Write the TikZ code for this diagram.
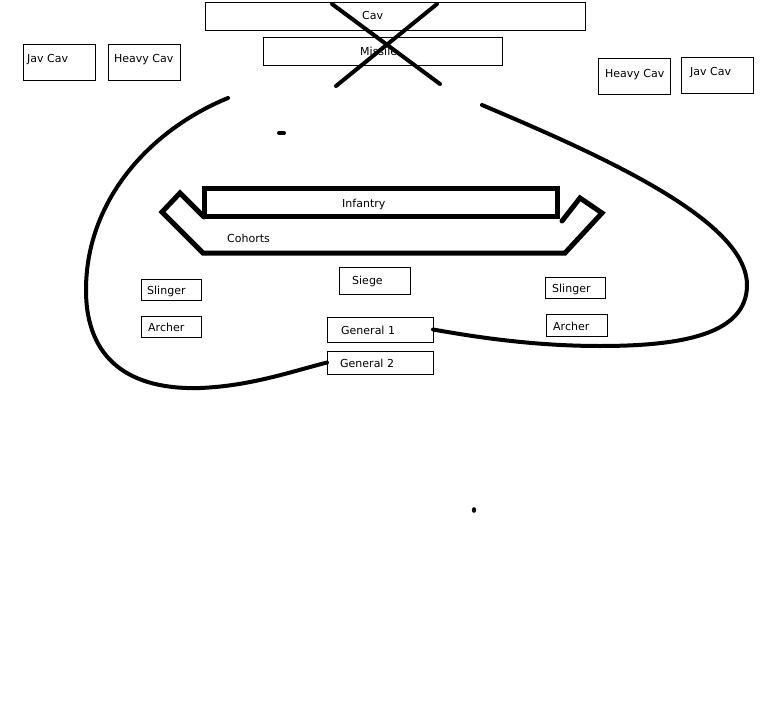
\documentclass[tikz,border=0pt]{standalone}
\usepackage{fontspec}
\setmainfont{DejaVu Sans}
\begin{document}
\begin{tikzpicture}[x=1pt,y=-1pt,
  box/.style={draw=black, line width=0.9pt, fill=white, rectangle, inner sep=0pt, outer sep=0pt, anchor=north west},
  lbl/.style={inner sep=0pt, anchor=west, font=\fontsize{11}{13}\selectfont, text=black},
  thick line/.style={line width=4pt, line cap=round, line join=round},
  heavy line/.style={line width=5pt, line join=miter, line cap=round}]
\useasboundingbox[fill=white] (0,0) rectangle (777,720);

% top boxes
\node[box, minimum width=380pt, minimum height=28pt] (cav) at (205,2) {};
\node[lbl] (cavt) at (362,15) {Cav};
\node[box, minimum width=239pt, minimum height=28pt] (mis) at (263,37) {};
\node[lbl] (mist) at (360,51) {Missile};

\node[box, minimum width=72pt, minimum height=36pt] (jc1) at (23,44) {};
\node[lbl] (jc1t) at (27,60) {Jav Cav};
\node[box, minimum width=72pt, minimum height=36pt] (hc1) at (108,44) {};
\node[lbl] (hc1t) at (114,60) {Heavy Cav};
\node[box, minimum width=72pt, minimum height=36pt] (hc2) at (598,58) {};
\node[lbl] (hc2t) at (605,75) {Heavy Cav};
\node[box, minimum width=72pt, minimum height=36pt] (jc2) at (681,57) {};
\node[lbl] (jc2t) at (690,73) {Jav Cav};

% cross over cav / missile
\coordinate (xa1) at (332,4);
\coordinate (xa2) at (440,84);
\coordinate (xb1) at (437,4);
\coordinate (xb2) at (336,86);
\draw[thick line] (xa1) -- (xa2);
\draw[thick line] (xb1) -- (xb2);

% infantry and cohorts
\coordinate (c1) at (204,217);
\coordinate (c2) at (180,193);
\coordinate (c3) at (162,212);
\coordinate (c4) at (203,253);
\coordinate (c5) at (565,253);
\coordinate (c6) at (602,213);
\coordinate (c7) at (580,198);
\coordinate (c8) at (562,221);
\draw[heavy line] (c1) -- (c2) -- (c3) -- (c4) -- (c5) -- (c6) -- (c7) -- (c8);
\node[draw=black, line width=5pt, rectangle, inner sep=0pt, outer sep=0pt, anchor=north west,
      minimum width=352.5pt, minimum height=28pt] (inf) at (204.5,188.5) {};
\node[lbl] (inft) at (342,204) {Infantry};
\node[lbl] (coht) at (227,238) {Cohorts};

% lower boxes
\node[box, minimum width=71pt, minimum height=27pt] (sg) at (339,267) {};
\node[lbl] (sgt) at (352,281) {Siege};
\node[box, minimum width=60pt, minimum height=21pt] (sl1) at (141,279) {};
\node[lbl] (sl1t) at (147,291) {Slinger};
\node[box, minimum width=60pt, minimum height=21pt] (ar1) at (141,316) {};
\node[lbl] (ar1t) at (148,327) {Archer};
\node[box, minimum width=60pt, minimum height=21pt] (sl2) at (545,277) {};
\node[lbl] (sl2t) at (552,289) {Slinger};
\node[box, minimum width=61pt, minimum height=22pt] (ar2) at (546,314) {};
\node[lbl] (ar2t) at (553,326) {Archer};
\node[box, minimum width=106pt, minimum height=25pt] (g1) at (327,317) {};
\node[lbl] (g1t) at (341,330) {General 1};
\node[box, minimum width=106pt, minimum height=23pt] (g2) at (327,351) {};
\node[lbl] (g2t) at (340,363) {General 2};

% flanking curves
\coordinate (l0) at (228,98);
\coordinate (r0) at (482,105);
\draw[thick line] (l0) .. controls (150,130) and (86,200) .. (86,290)
   .. controls (86,360) and (130,390) .. (200,388)
   .. controls (250,386) and (290,372) .. (g2.west);
\draw[thick line] (r0) .. controls (600,155) and (747,220) .. (747,285)
   .. controls (747,335) and (680,346) .. (600,346)
   .. controls (530,346) and (470,336) .. (g1.east);

% stray marks
\coordinate (d1a) at (279,133);
\coordinate (d1b) at (284,133);
\draw[line width=4pt, line cap=round] (d1a) -- (d1b);
\coordinate (d2) at (474,510);
\fill (d2) ellipse (2.2pt and 2.8pt);
\end{tikzpicture}
\end{document}
